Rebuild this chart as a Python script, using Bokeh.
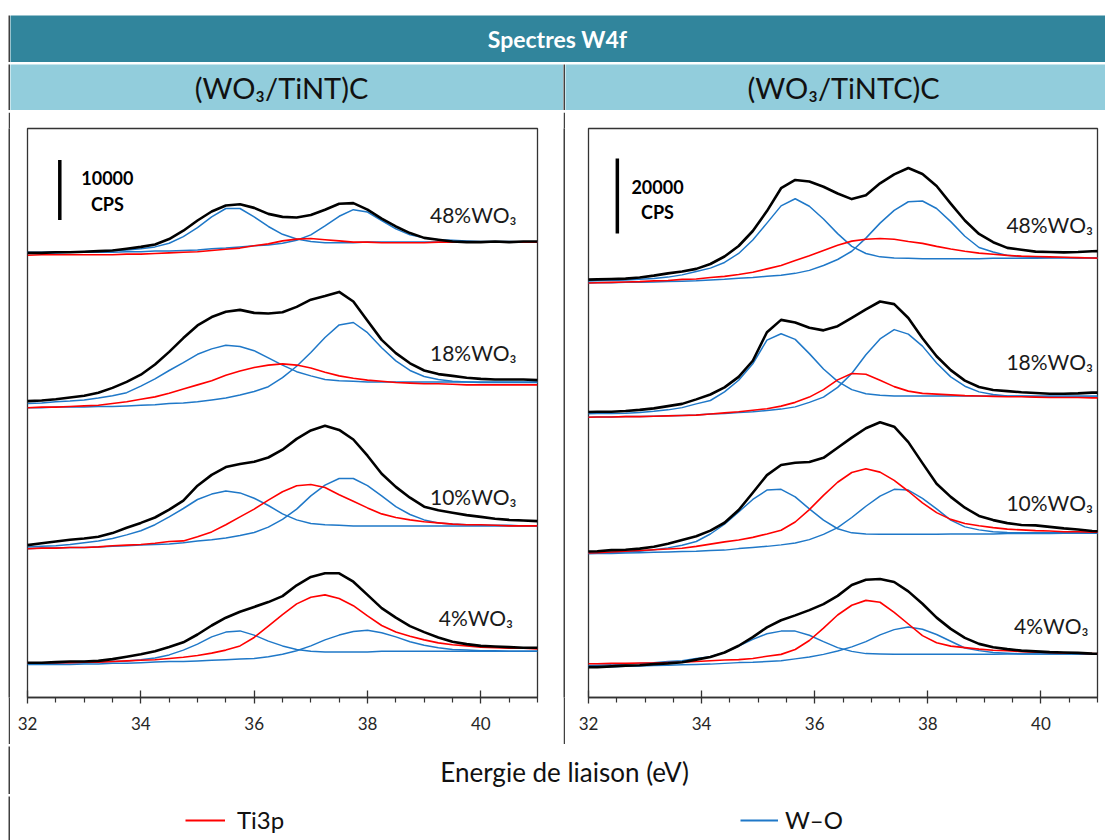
from bokeh.plotting import figure
from bokeh.layouts import column, row
from bokeh.models import Range1d, Label, Legend, LegendItem, FixedTicker, Spacer
from bokeh.embed import file_html
from bokeh.resources import INLINE

# ---------------- data ----------------
# binding-energy sampling of the (WO3/TiNT)C spectra
energy_tint_eV = [32.0, 32.25, 32.5, 32.75, 33.0, 33.25, 33.5, 33.75, 34.0, 34.25, 34.5, 34.75,
                  35.0, 35.25, 35.5, 35.75, 36.0, 36.25, 36.5, 36.75, 37.0, 37.25, 37.5, 37.75,
                  38.0, 38.25, 38.5, 38.75, 39.0, 39.25, 39.5, 39.75, 40.0, 40.25, 40.5, 40.75, 41.0]
# binding-energy sampling of the (WO3/TiNTC)C spectra
energy_tintc_eV = [31.905, 32.155, 32.405, 32.655, 32.905, 33.155, 33.405, 33.655, 33.905, 34.155,
                   34.405, 34.655, 34.905, 35.155, 35.405, 35.655, 35.905, 36.155, 36.405, 36.655,
                   36.905, 37.155, 37.405, 37.655, 37.905, 38.155, 38.405, 38.655, 38.905, 39.155,
                   39.405, 39.655, 39.905, 40.155, 40.405, 40.655, 40.905, 41.155]
major_ticks = [32, 34, 36, 38, 40]
minor_ticks = [32.5, 33, 33.5, 34.5, 35, 35.5, 36.5, 37, 37.5, 38.5, 39, 39.5, 40.5, 41]

chart_title = "Spectres W4f"
panel_titles = ["(WO₃/TiNT)C", "(WO₃/TiNTC)C"]
sample_labels = ["48%WO₃", "18%WO₃", "10%WO₃", "4%WO₃"]
x_title = "Energie de liaison (eV)"
legend_labels = ["Ti3p", "W–O"]
scale_bar_kcps = [10, 20]
scale_bar_text = [["10000", "CPS"], ["20000", "CPS"]]

# intensities in kCPS, spectra stacked with vertical offsets
# ---- (WO3/TiNT)C ----
tint_48_total = [74.1, 74.1, 74.2, 74.2, 74.3, 74.4, 74.5, 74.8, 75.1, 75.5, 76.4, 77.8, 79.5, 81.0, 82.0, 82.2, 81.6, 80.6, 80.1, 80.0, 80.4, 81.3, 82.3, 82.4, 81.3, 79.8, 78.5, 77.4, 76.6, 76.3, 76.0, 75.9, 75.9, 76.0, 75.9, 76.0, 76.0]
tint_48_wo_a = [74.2, 74.2, 74.3, 74.3, 74.3, 74.4, 74.5, 74.6, 74.8, 75.1, 75.7, 76.8, 78.3, 80.1, 81.5, 81.5, 80.1, 78.5, 77.2, 76.4, 76.0, 75.8, 75.8, 75.8, 75.9, 75.9, 75.9, 75.9, 75.9, 75.9, 75.9, 75.9, 75.9, 75.9, 75.9, 75.9, 75.9]
tint_48_wo_b = [74.1, 74.1, 74.1, 74.2, 74.2, 74.2, 74.2, 74.3, 74.3, 74.4, 74.4, 74.5, 74.6, 74.8, 74.9, 75.1, 75.3, 75.4, 75.7, 76.2, 77.1, 78.6, 80.2, 81.3, 80.9, 79.5, 78.1, 77.1, 76.6, 76.3, 76.2, 76.1, 76.0, 76.0, 76.0, 75.9, 75.9]
tint_48_ti3p = [73.7, 73.8, 73.8, 73.8, 73.8, 73.8, 73.8, 73.9, 73.9, 74.0, 74.1, 74.2, 74.3, 74.5, 74.7, 74.9, 75.3, 75.6, 76.1, 76.4, 76.5, 76.3, 76.1, 75.9, 75.9, 75.8, 75.8, 75.8, 75.8, 75.9, 75.9, 75.9, 75.9, 75.9, 75.9, 75.9, 75.9]

tint_18_total = [49.4, 49.5, 49.7, 50.0, 50.3, 50.8, 51.6, 52.6, 53.8, 55.5, 57.6, 59.9, 62.0, 63.4, 64.3, 64.6, 64.1, 64.0, 64.2, 65.1, 66.3, 66.9, 67.6, 66.0, 62.8, 59.6, 57.4, 55.7, 54.5, 53.9, 53.6, 53.3, 53.1, 53.0, 53.0, 53.0, 52.9]
tint_18_wo_a = [49.0, 49.1, 49.3, 49.4, 49.6, 49.9, 50.3, 50.8, 51.9, 53.1, 54.5, 55.8, 57.2, 58.1, 58.7, 58.5, 57.8, 56.6, 55.4, 54.3, 53.6, 53.0, 52.8, 52.7, 52.6, 52.6, 52.6, 52.6, 52.6, 52.6, 52.6, 52.6, 52.6, 52.6, 52.6, 52.6, 52.6]
tint_18_wo_b = [48.3, 48.3, 48.4, 48.4, 48.4, 48.5, 48.5, 48.6, 48.7, 48.8, 49.0, 49.1, 49.3, 49.6, 49.9, 50.4, 51.0, 51.8, 53.3, 55.2, 57.5, 60.0, 62.1, 62.5, 60.8, 58.3, 56.1, 54.5, 53.5, 53.0, 52.7, 52.6, 52.5, 52.5, 52.5, 52.5, 52.5]
tint_18_ti3p = [48.3, 48.4, 48.4, 48.5, 48.6, 48.7, 49.0, 49.3, 49.7, 50.1, 50.7, 51.4, 52.1, 52.8, 53.7, 54.4, 55.0, 55.4, 55.6, 55.4, 54.9, 54.2, 53.6, 53.2, 52.9, 52.7, 52.5, 52.4, 52.3, 52.3, 52.2, 52.1, 52.1, 52.1, 52.1, 52.1, 52.1]

tint_10_total = [25.4, 25.7, 26.0, 26.3, 26.5, 26.8, 27.4, 28.3, 29.1, 30.0, 31.3, 32.8, 35.3, 37.1, 38.4, 38.9, 39.3, 40.0, 41.3, 43.1, 44.5, 45.3, 44.6, 43.0, 40.3, 37.3, 35.1, 33.3, 31.8, 31.2, 30.8, 30.4, 30.1, 29.8, 29.6, 29.5, 29.4]
tint_10_wo_a = [25.1, 25.2, 25.3, 25.5, 25.8, 26.1, 26.5, 27.1, 27.8, 28.8, 30.1, 31.5, 33.0, 33.9, 34.4, 34.1, 33.2, 32.0, 30.6, 29.6, 29.0, 28.8, 28.7, 28.6, 28.6, 28.6, 28.6, 28.6, 28.6, 28.6, 28.6, 28.6, 28.6, 28.6, 28.6, 28.6, 28.6]
tint_10_wo_b = [24.8, 24.9, 24.9, 25.0, 25.0, 25.1, 25.2, 25.3, 25.4, 25.5, 25.6, 25.8, 26.1, 26.3, 26.6, 27.0, 27.5, 28.4, 29.7, 31.4, 33.6, 35.4, 36.5, 36.5, 35.3, 33.6, 31.8, 30.5, 29.6, 29.1, 28.9, 28.8, 28.7, 28.7, 28.7, 28.6, 28.6]
tint_10_ti3p = [24.8, 24.9, 24.9, 25.0, 25.0, 25.1, 25.3, 25.4, 25.5, 25.7, 26.0, 26.1, 26.8, 27.6, 28.8, 30.1, 31.4, 32.9, 34.3, 35.3, 35.5, 35.0, 33.8, 32.7, 31.6, 30.6, 30.0, 29.6, 29.3, 29.1, 28.9, 28.8, 28.8, 28.7, 28.6, 28.6, 28.6]

tint_4_total = [5.8, 5.8, 5.9, 6.0, 6.0, 6.1, 6.4, 6.8, 7.2, 7.7, 8.4, 9.2, 10.5, 12.0, 13.3, 14.3, 15.1, 15.9, 16.9, 18.7, 20.1, 20.7, 20.7, 19.3, 17.1, 14.9, 13.3, 11.9, 10.9, 10.0, 9.3, 8.9, 8.6, 8.5, 8.4, 8.3, 8.3]
tint_4_wo_a = [5.6, 5.7, 5.7, 5.8, 5.8, 5.9, 6.0, 6.1, 6.3, 6.6, 7.1, 7.9, 8.9, 10.1, 10.9, 11.1, 10.4, 9.4, 8.6, 8.0, 7.7, 7.6, 7.6, 7.6, 7.6, 7.7, 7.7, 7.7, 7.7, 7.7, 7.7, 7.7, 7.7, 7.7, 7.7, 7.7, 7.7]
tint_4_wo_b = [5.5, 5.5, 5.5, 5.5, 5.6, 5.6, 5.7, 5.7, 5.8, 5.9, 6.0, 6.0, 6.1, 6.2, 6.3, 6.4, 6.5, 6.8, 7.2, 7.8, 8.6, 9.6, 10.4, 11.0, 11.2, 10.8, 10.1, 9.3, 8.7, 8.3, 8.0, 7.9, 7.8, 7.8, 7.7, 7.7, 7.7]
tint_4_ti3p = [5.8, 5.8, 5.8, 5.8, 5.9, 5.9, 6.0, 6.1, 6.2, 6.3, 6.5, 6.7, 7.0, 7.4, 7.9, 8.6, 10.0, 11.9, 13.8, 15.6, 16.7, 17.1, 16.5, 15.3, 13.6, 12.0, 10.9, 10.2, 9.6, 9.1, 8.8, 8.6, 8.4, 8.3, 8.2, 8.2, 8.1]

# ---- (WO3/TiNTC)C ----
tintc_48_total = [111.4, 111.5, 111.6, 111.7, 112.0, 112.5, 113.1, 113.6, 114.3, 115.6, 117.6, 120.4, 124.4, 129.7, 135.8, 138.0, 137.6, 136.2, 134.4, 132.9, 133.9, 137.1, 139.5, 141.2, 139.6, 136.4, 131.7, 127.2, 123.6, 121.4, 119.9, 119.4, 118.9, 118.8, 118.7, 118.8, 119.0, 119.1]
tintc_48_wo_a = [111.0, 111.1, 111.2, 111.3, 111.5, 111.7, 112.1, 112.7, 113.6, 114.5, 116.0, 118.4, 122.0, 126.5, 131.1, 133.0, 131.0, 127.6, 123.7, 120.3, 118.4, 117.5, 117.2, 117.1, 117.0, 117.0, 117.0, 117.0, 117.0, 117.1, 117.1, 117.1, 117.1, 117.2, 117.2, 117.2, 117.2, 117.2]
tintc_48_wo_b = [110.5, 110.6, 110.6, 110.7, 110.7, 110.8, 110.9, 111.0, 111.1, 111.3, 111.5, 111.8, 112.0, 112.3, 112.6, 113.1, 113.9, 115.2, 116.8, 119.0, 122.5, 126.5, 129.9, 132.2, 132.4, 130.4, 126.9, 123.0, 120.0, 118.8, 117.9, 117.5, 117.4, 117.3, 117.3, 117.2, 117.2, 117.2]
tintc_48_ti3p = [110.5, 110.6, 110.7, 110.8, 110.9, 111.1, 111.2, 111.5, 111.6, 112.0, 112.3, 112.8, 113.4, 114.3, 115.2, 116.5, 117.8, 119.2, 120.6, 121.7, 122.2, 122.4, 122.2, 121.6, 121.1, 120.3, 119.6, 119.0, 118.5, 118.2, 117.9, 117.7, 117.6, 117.5, 117.4, 117.3, 117.2, 117.1]

tintc_18_total = [76.1, 76.2, 76.2, 76.4, 76.7, 77.1, 77.7, 78.3, 79.5, 80.8, 82.7, 85.5, 89.8, 97.4, 100.7, 100.0, 98.6, 97.9, 99.0, 101.2, 103.5, 105.6, 104.9, 101.2, 95.8, 91.0, 87.3, 84.5, 82.8, 82.0, 81.7, 81.4, 81.2, 81.0, 81.0, 81.1, 81.3, 81.3]
tintc_18_wo_a = [75.6, 75.7, 75.7, 75.8, 76.0, 76.3, 76.7, 77.3, 78.3, 79.2, 81.5, 84.6, 89.0, 95.3, 97.0, 95.5, 91.7, 87.6, 84.3, 82.1, 81.0, 80.6, 80.4, 80.4, 80.4, 80.4, 80.4, 80.4, 80.4, 80.4, 80.4, 80.4, 80.4, 80.4, 80.4, 80.4, 80.4, 80.4]
tintc_18_wo_b = [74.7, 74.8, 74.8, 74.9, 74.9, 75.0, 75.1, 75.2, 75.3, 75.6, 75.7, 76.0, 76.2, 76.5, 76.9, 77.5, 78.7, 80.1, 82.7, 86.4, 91.4, 95.6, 98.1, 96.9, 93.7, 89.2, 85.5, 83.0, 81.5, 80.8, 80.4, 80.3, 80.2, 80.2, 80.1, 80.1, 80.1, 80.1]
tintc_18_ti3p = [74.7, 74.8, 74.8, 74.9, 74.9, 75.0, 75.1, 75.2, 75.3, 75.6, 75.9, 76.2, 76.6, 77.0, 77.7, 78.7, 80.1, 82.1, 84.7, 86.4, 86.2, 84.6, 82.9, 81.7, 81.1, 80.9, 80.7, 80.5, 80.4, 80.3, 80.2, 80.2, 80.1, 80.0, 80.0, 80.0, 79.9, 79.9]

tintc_10_total = [38.9, 39.0, 39.3, 39.4, 39.7, 40.2, 41.0, 42.0, 43.0, 44.5, 46.6, 50.0, 54.6, 59.3, 62.0, 62.6, 62.8, 63.9, 66.6, 69.3, 71.8, 73.4, 72.2, 68.1, 62.5, 57.0, 53.5, 50.6, 48.4, 47.3, 46.5, 46.0, 45.9, 45.5, 45.1, 44.8, 44.4, 44.2]
tintc_10_wo_a = [38.5, 38.6, 38.7, 38.8, 39.0, 39.4, 39.9, 40.6, 41.6, 43.6, 46.2, 49.5, 52.8, 55.3, 55.5, 53.5, 50.3, 47.3, 45.0, 43.9, 43.6, 43.5, 43.5, 43.5, 43.5, 43.5, 43.6, 43.6, 43.6, 43.6, 43.7, 43.7, 43.7, 43.7, 43.8, 43.8, 43.8, 43.8]
tintc_10_wo_b = [38.3, 38.4, 38.4, 38.5, 38.6, 38.7, 38.8, 38.9, 39.0, 39.2, 39.3, 39.7, 40.0, 40.3, 40.7, 41.2, 42.1, 43.5, 45.3, 48.0, 51.0, 53.7, 55.5, 55.3, 53.1, 50.3, 47.3, 45.5, 44.7, 44.2, 44.0, 43.9, 43.9, 43.9, 43.9, 43.9, 43.9, 43.9]
tintc_10_ti3p = [38.5, 38.6, 38.8, 39.0, 39.2, 39.4, 39.6, 39.8, 40.3, 40.9, 41.5, 42.0, 42.7, 43.6, 44.6, 46.8, 50.1, 53.9, 57.4, 60.0, 61.0, 60.1, 57.9, 55.0, 51.9, 49.3, 47.5, 46.4, 45.8, 45.3, 44.9, 44.7, 44.5, 44.4, 44.2, 44.2, 44.1, 44.0]

tintc_4_total = [8.1, 8.1, 8.3, 8.5, 8.6, 8.9, 9.1, 9.4, 10.1, 10.8, 12.0, 13.8, 16.1, 18.7, 20.6, 21.9, 23.3, 24.9, 27.1, 30.0, 31.4, 31.6, 30.8, 28.3, 25.0, 21.3, 18.3, 15.9, 14.3, 13.4, 12.9, 12.5, 12.3, 12.1, 12.0, 11.9, 11.7, 11.6]
tintc_4_wo_a = [8.5, 8.6, 8.7, 8.9, 9.1, 9.3, 9.6, 9.8, 10.4, 10.9, 12.0, 13.7, 15.5, 17.0, 17.7, 17.7, 16.6, 14.9, 13.3, 12.3, 11.7, 11.6, 11.5, 11.5, 11.5, 11.5, 11.5, 11.5, 11.5, 11.5, 11.6, 11.6, 11.6, 11.6, 11.6, 11.6, 11.6, 11.6]
tintc_4_wo_b = [8.1, 8.1, 8.2, 8.3, 8.4, 8.5, 8.6, 8.7, 8.8, 8.9, 9.1, 9.3, 9.4, 9.6, 9.8, 10.3, 10.8, 11.5, 12.4, 13.5, 14.9, 16.7, 18.1, 18.8, 18.2, 16.8, 15.0, 13.2, 12.5, 12.0, 11.8, 11.6, 11.6, 11.6, 11.6, 11.6, 11.6, 11.6]
tintc_4_ti3p = [9.0, 9.0, 9.1, 9.1, 9.2, 9.2, 9.3, 9.4, 9.6, 9.8, 10.0, 10.1, 10.4, 11.0, 11.5, 12.8, 15.2, 18.5, 22.0, 24.6, 25.9, 25.4, 22.7, 19.6, 16.5, 14.6, 13.7, 13.3, 12.9, 12.6, 12.5, 12.2, 12.1, 12.0, 11.9, 11.8, 11.7, 11.6]

# ---------------- style ----------------
FONT = "Lato"
LINE = "#404040"
TEAL = "#31859C"
LIGHT = "#92CDDC"
RED = "#FF0000"
BLUE = "#1F78C8"
BLACK = "#000000"
NAN = float("nan")

FULL_W = 1097      # table width inside the window (left page gap of 8 px)
LEFT_W = 553
RIGHT_W = 540


def bare(width, height, fill):
    f = figure(width=width, height=height, x_range=Range1d(0, 1), y_range=Range1d(0, 1),
               toolbar_location=None, output_backend="svg", min_border=0,
               x_axis_location=None, y_axis_location=None,
               background_fill_color=fill, border_fill_color=fill, outline_line_color=None)
    f.xgrid.visible = False
    f.ygrid.visible = False
    return f


def hline():
    return bare(FULL_W, 2, LINE)


def vline(h):
    return bare(2, h, LINE)


def text_cell(width, height, fill, text, x, y, size, color="#111111", style="normal"):
    f = bare(width, height, fill)
    f.add_layout(Label(x=x, y=y, text=text, text_align="center", text_baseline="middle",
                       text_font=FONT, text_font_size=size, text_font_style=style,
                       text_color=color))
    return f


def make_panel(width, b_left, b_right, ymax, energy, spectra, label_xs, label_ys,
               bar_x, bar_y0, bar_len, bar_texts, bar_text_x, bar_text_ys):
    p = figure(width=width, height=632, x_range=Range1d(32, 41), y_range=Range1d(0, ymax),
               toolbar_location=None, output_backend="svg", y_axis_location=None,
               min_border_left=b_left, min_border_right=b_right,
               min_border_top=16, min_border_bottom=47,
               background_fill_color="white", border_fill_color="white",
               outline_line_color="#333333", outline_line_width=1.3)
    p.xgrid.visible = False
    p.ygrid.visible = False
    ax = p.xaxis[0]
    ax.ticker = FixedTicker(ticks=major_ticks, minor_ticks=minor_ticks)
    ax.axis_line_color = "#333333"
    ax.axis_line_width = 1.3
    ax.major_tick_line_color = "#333333"
    ax.major_tick_line_width = 1.3
    ax.minor_tick_line_color = "#333333"
    ax.minor_tick_line_width = 1.2
    ax.major_tick_in = 7
    ax.major_tick_out = 6
    ax.minor_tick_in = 0
    ax.minor_tick_out = 5
    ax.major_label_standoff = 13
    ax.major_label_text_font = FONT
    ax.major_label_text_font_size = "17px"
    ax.major_label_text_color = "#262626"

    for total, ti3p, wo_a, wo_b in spectra:
        p.line(energy, wo_a, line_color=BLUE, line_width=1.5, line_join="round")
        p.line(energy, wo_b, line_color=BLUE, line_width=1.5, line_join="round")
        p.line(energy, ti3p, line_color=RED, line_width=1.6, line_join="round")
        p.line(energy, total, line_color=BLACK, line_width=2.6, line_join="round")

    for txt, lx, ly in zip(sample_labels, label_xs, label_ys):
        p.add_layout(Label(x=lx, y=ly, text=txt, text_align="right", text_baseline="middle",
                           text_font=FONT, text_font_size="21px", text_color="#1a1a1a"))

    p.segment(x0=[bar_x], y0=[bar_y0], x1=[bar_x], y1=[bar_y0 + bar_len],
              line_color=BLACK, line_width=3.5)
    for txt, ty in zip(bar_texts, bar_text_ys):
        p.add_layout(Label(x=bar_text_x, y=ty, text=txt, text_align="center",
                           text_baseline="middle", text_font=FONT, text_font_size="18px",
                           text_font_style="bold", text_color=BLACK))
    return p


left_spectra = [
    (tint_48_total, tint_48_ti3p, tint_48_wo_a, tint_48_wo_b),
    (tint_18_total, tint_18_ti3p, tint_18_wo_a, tint_18_wo_b),
    (tint_10_total, tint_10_ti3p, tint_10_wo_a, tint_10_wo_b),
    (tint_4_total, tint_4_ti3p, tint_4_wo_a, tint_4_wo_b),
]
right_spectra = [
    (tintc_48_total, tintc_48_ti3p, tintc_48_wo_a, tintc_48_wo_b),
    (tintc_18_total, tintc_18_ti3p, tintc_18_wo_a, tintc_18_wo_b),
    (tintc_10_total, tintc_10_ti3p, tintc_10_wo_a, tintc_10_wo_b),
    (tintc_4_total, tintc_4_ti3p, tintc_4_wo_a, tintc_4_wo_b),
]

left = make_panel(LEFT_W, 17, 26, 94.83, energy_tint_eV, left_spectra,
                  [40.63, 40.63, 40.63, 40.57], [80.5, 57.5, 33.5, 13.3],
                  32.57, 79.6, scale_bar_kcps[0], scale_bar_text[0], 33.41, [86.6, 82.3])
right = make_panel(RIGHT_W, 23, 8, 151.73, energy_tintc_eV, right_spectra,
                   [40.92, 40.92, 40.92, 40.84], [126.1, 89.6, 52.0, 19.2],
                   32.51, 123.7, scale_bar_kcps[1], scale_bar_text[1], 33.22, [136.1, 129.5])

title_fig = text_cell(FULL_W - 2, 47, TEAL, chart_title, 0.4995, 0.5, "23px",
                      color="white", style="bold")
head_left = text_cell(LEFT_W, 46, LIGHT, panel_titles[0], 0.49, 0.5, "29px")
head_right = text_cell(RIGHT_W, 46, LIGHT, panel_titles[1], 0.515, 0.5, "29px")
xlabel_fig = text_cell(FULL_W - 2, 48, "white", x_title, 0.506, 0.47, "26px")

legend_fig = bare(FULL_W - 2, 44, "white")
r_ti = legend_fig.line([NAN], [NAN], line_color=RED, line_width=2)
r_wo = legend_fig.line([NAN], [NAN], line_color=BLUE, line_width=2)
for lbl, rend, loc, gw, stand in [(legend_labels[0], r_ti, (175, 6), 40, 12),
                                  (legend_labels[1], r_wo, (730, 6), 38, 7)]:
    lg = Legend(items=[LegendItem(label=lbl, renderers=[rend])], location=loc,
                orientation="horizontal", glyph_width=gw, glyph_height=24, label_height=24,
                label_standoff=stand, padding=0, margin=0, border_line_color=None,
                background_fill_alpha=0, label_text_font=FONT, label_text_font_size="24px",
                label_text_color="#111111")
    legend_fig.add_layout(lg)

table = column(
    Spacer(width=FULL_W, height=13),
    hline(),
    row(vline(47), title_fig),
    hline(),
    row(vline(46), head_left, vline(46), head_right),
    hline(),
    row(vline(632), left, vline(632), right),
    hline(),
    row(vline(48), xlabel_fig),
    hline(),
    row(vline(44), legend_fig),
)
layout = row(Spacer(width=8, height=840), table)

open("out.html", "w").write(file_html(layout, INLINE, title="Spectres W4f"))
